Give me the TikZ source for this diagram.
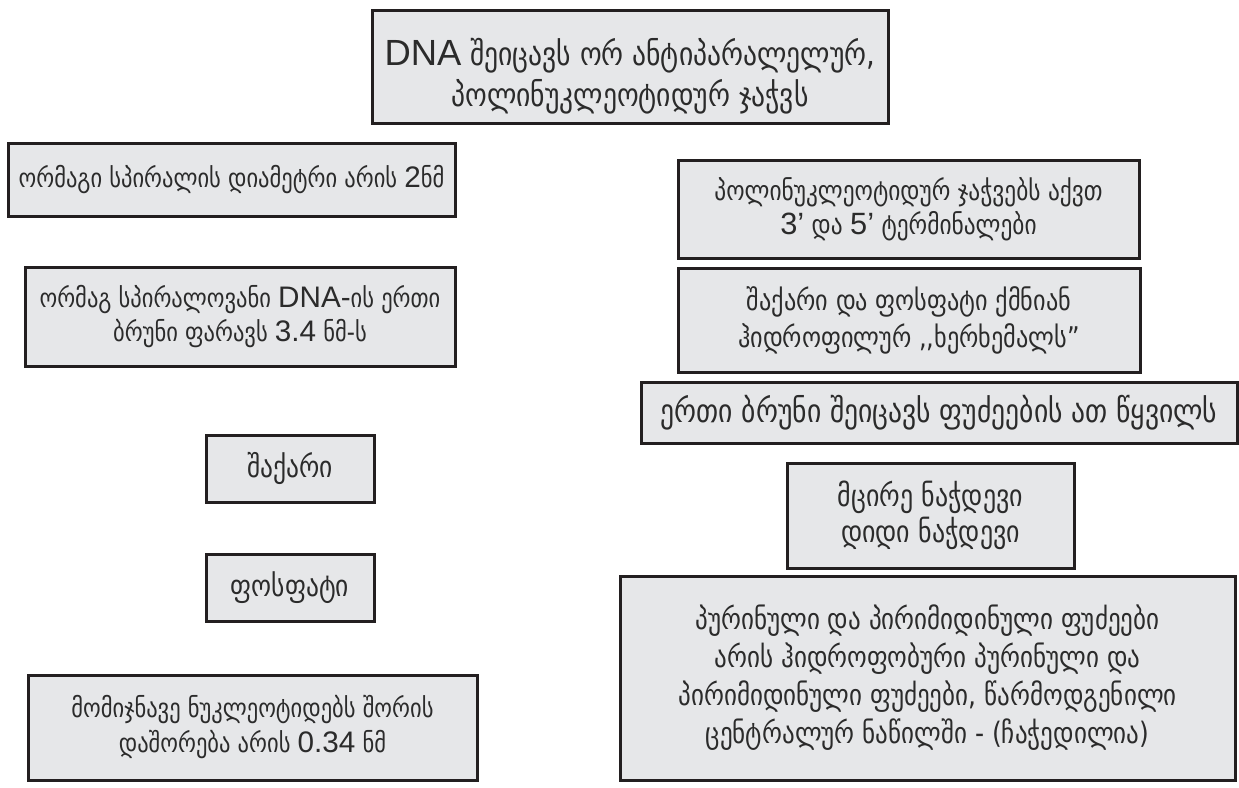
\documentclass[tikz,border=0pt]{standalone}
\usepackage{fontspec}
\setmainfont[FakeStretch=0.85]{DejaVu Sans}
\newfontfamily\lat[Scale=1.12]{Liberation Sans}
\newcommand{\la}[1]{{\lat #1}}
\definecolor{boxfill}{HTML}{E6E7E9}
\definecolor{boxline}{HTML}{231F20}
\definecolor{ink}{HTML}{2B2B2B}
\begin{document}
\begin{tikzpicture}[x=1pt,y=-1pt,
  fact/.style={draw=boxline, line width=3pt, fill=boxfill, text=ink,
    align=center, inner sep=0pt, font=\fontsize{26.5}{34}\selectfont},
  fs/.style 2 args={font=\fontsize{#1}{#2}\selectfont},
  caption/.style={text=ink, align=center, inner sep=0pt},
]
\useasboundingbox (0,0) rectangle (1239,787);
% box: centre, width, height
\node[fact, minimum width=516pt, minimum height=113pt] (dna) at (630,66.5) {};
\node[caption, fs={32.5}{41}] (dnatext) at ([yshift=-10pt]dna.center)
  {\la{DNA} შეიცავს ორ ანტიპარალელურ,\\პოლინუკლეოტიდურ ჯაჭვს};
\node[fact, minimum width=447pt, minimum height=73pt] (diam) at (231.5,179.5)
  {ორმაგი სპირალის დიამეტრი არის \la{2}ნმ};
\node[fact, fs={27.5}{34}, minimum width=461pt, minimum height=98pt] (ends) at (908.5,209)
  {პოლინუკლეოტიდურ ჯაჭვებს აქვთ\\\la{3’} და \la{5’} ტერმინალები};
\node[fact, minimum width=430pt, minimum height=99pt] (turn) at (240,316.5)
  {ორმაგ სპირალოვანი \la{DNA-}ის ერთი\\ბრუნი ფარავს \la{3.4} ნმ-ს};
\node[fact, fs={28.5}{37}, minimum width=462pt, minimum height=104pt] (spine) at (909,320)
  {შაქარი და ფოსფატი ქმნიან\\ჰიდროფილურ {,}{,}ხერხემალს”};
\node[fact, fs={32.5}{37}, minimum width=596pt, minimum height=61pt] (pairs) at (939,412.5)
  {ერთი ბრუნი შეიცავს ფუძეების ათ წყვილს};
\node[fact, fs={30}{36}, minimum width=168pt, minimum height=67pt] (sugar) at (290,468.5)
  {შაქარი};
\node[fact, fs={30}{36}, minimum width=168pt, minimum height=67pt] (phos) at (290,587.5)
  {ფოსფატი};
\node[fact, fs={30.5}{36}, minimum width=287pt, minimum height=105pt] (groove) at (930.5,515.5)
  {მცირე ნაჭდევი\\დიდი ნაჭდევი};
\node[fact, fs={26.5}{35}, minimum width=449pt, minimum height=105pt] (dist) at (252.5,727.5)
  {მომიჯნავე ნუკლეოტიდებს შორის\\დაშორება არის \la{0.34} ნმ};
\node[fact, fs={29.5}{38}, minimum width=615pt, minimum height=204pt] (bases) at (927.5,678)
  {პურინული და პირიმიდინული ფუძეები\\არის ჰიდროფობური პურინული და\\პირიმიდინული ფუძეები, წარმოდგენილი\\ცენტრალურ ნაწილში - (ჩაჭედილია)};
\end{tikzpicture}
\end{document}
